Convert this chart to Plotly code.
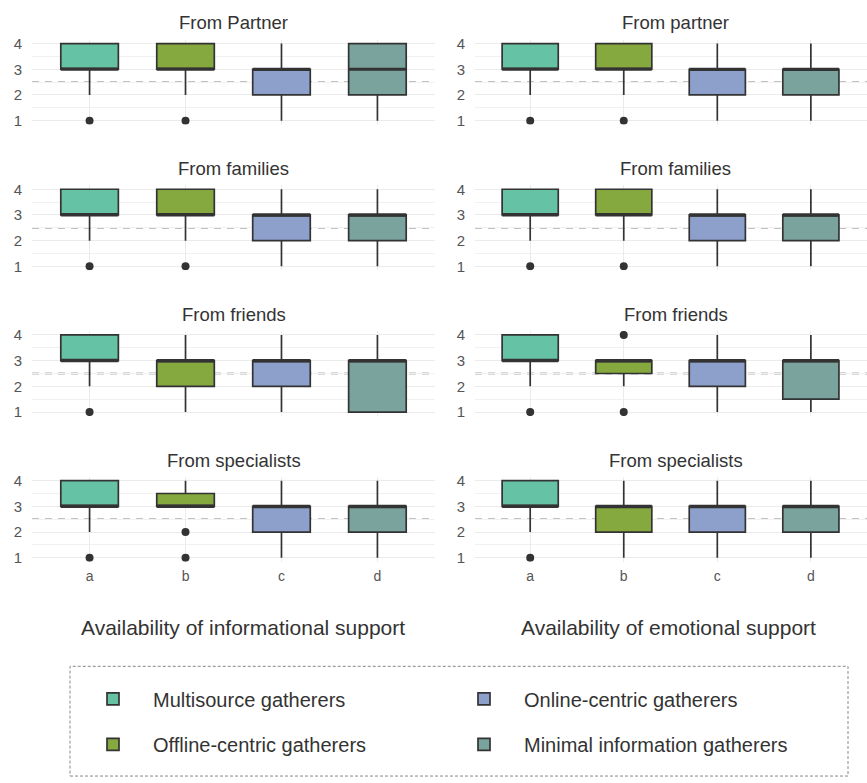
import plotly.graph_objects as go

# ---------------------------------------------------------------- data
CATEGORIES = ["a", "b", "c", "d"]
GROUPS = ["Multisource gatherers", "Offline-centric gatherers",
          "Online-centric gatherers", "Minimal information gatherers"]
COLORS = ["#66C2A5", "#86A93F", "#8DA0CB", "#7BA39D"]

INFO_TITLES = ["From Partner", "From families", "From friends", "From specialists"]
EMO_TITLES = ["From partner", "From families", "From friends", "From specialists"]

# box statistics per panel (rows) and per group a..d (columns)
INFO_Q1 = [[3, 3, 2, 2], [3, 3, 2, 2], [3, 2, 2, 1], [3, 3, 2, 2]]
INFO_MEDIAN = [[3, 3, 3, 3], [3, 3, 3, 3], [3, 3, 3, 3], [3, 3, 3, 3]]
INFO_Q3 = [[4, 4, 3, 4], [4, 4, 3, 3], [4, 3, 3, 3], [4, 3.5, 3, 3]]
INFO_LOWER = [[2, 2, 1, 1], [2, 2, 1, 1], [2, 1, 1, 1], [2, 3, 1, 1]]
INFO_UPPER = [[4, 4, 4, 4], [4, 4, 4, 4], [4, 4, 4, 4], [4, 4, 4, 4]]
INFO_OUTLIER_X = [["a", "b"], ["a", "b"], ["a"], ["a", "b", "b"]]
INFO_OUTLIER_Y = [[1, 1], [1, 1], [1], [1, 2, 1]]

EMO_Q1 = [[3, 3, 2, 2], [3, 3, 2, 2], [3, 2.5, 2, 1.5], [3, 2, 2, 2]]
EMO_MEDIAN = [[3, 3, 3, 3], [3, 3, 3, 3], [3, 3, 3, 3], [3, 3, 3, 3]]
EMO_Q3 = [[4, 4, 3, 3], [4, 4, 3, 3], [4, 3, 3, 3], [4, 3, 3, 3]]
EMO_LOWER = [[2, 2, 1, 1], [2, 2, 1, 1], [2, 2, 1, 1], [2, 1, 1, 1]]
EMO_UPPER = [[4, 4, 4, 4], [4, 4, 4, 4], [4, 3, 4, 4], [4, 4, 4, 4]]
EMO_OUTLIER_X = [["a", "b"], ["a", "b"], ["a", "b", "b"], ["a"]]
EMO_OUTLIER_Y = [[1, 1], [1, 1], [1, 4, 1], [1]]

Y_TICKS = [1, 2, 3, 4]
REFERENCE_LEVEL = 2.5
X_TITLES = ["Availability of informational support", "Availability of emotional support"]

# ---------------------------------------------------------------- layout helpers
W, H = 867, 783
FONT = "Liberation Sans, Arial, Helvetica, sans-serif"
INK = "#333333"
GRID = "#EBEBEB"

COL_PX = [(32, 435), (475, 876)]          # panel left/right in pixels
COL_XRANGE = [[-0.6, 3.6], [-0.59, 3.6]]
ROW_TOP0, ROW_STEP, ROW_H = 35.1, 147.4, 85.8


def px_x(p):
    return p / W


def px_y(p):
    return 1 - p / H


fig = go.Figure()
layout_axes = {}
annotations = []
shapes = []

columns = [
    (INFO_TITLES, INFO_Q1, INFO_MEDIAN, INFO_Q3, INFO_LOWER, INFO_UPPER, INFO_OUTLIER_X, INFO_OUTLIER_Y),
    (EMO_TITLES, EMO_Q1, EMO_MEDIAN, EMO_Q3, EMO_LOWER, EMO_UPPER, EMO_OUTLIER_X, EMO_OUTLIER_Y),
]

legend_of = {0: "legend", 2: "legend", 1: "legend2", 3: "legend2"}

for c, (titles, q1s, meds, q3s, los, his, oxs, oys) in enumerate(columns):
    for r in range(4):
        k = r * 2 + c + 1
        xa = "x" if k == 1 else f"x{k}"
        ya = "y" if k == 1 else f"y{k}"
        top = ROW_TOP0 + r * ROW_STEP
        bottom = top + ROW_H
        x0p, x1p = COL_PX[c]
        layout_axes["xaxis" if k == 1 else f"xaxis{k}"] = dict(
            domain=[px_x(x0p), min(px_x(x1p), 1.0)],
            anchor=ya,
            type="category",
            categoryorder="array",
            categoryarray=CATEGORIES,
            range=COL_XRANGE[c],
            showgrid=True, gridcolor=GRID, gridwidth=1,
            zeroline=False, showline=False, ticks="",
            showticklabels=(r == 3),
            tickfont=dict(family=FONT, size=14, color="#555555"),
            ticklabelstandoff=4,
        )
        layout_axes["yaxis" if k == 1 else f"yaxis{k}"] = dict(
            domain=[px_y(bottom), px_y(top)],
            anchor=xa,
            range=[0.85, 4.15],
            tickvals=Y_TICKS,
            showgrid=True, gridcolor=GRID, gridwidth=1.2,
            minor=dict(tickmode="linear", tick0=0.5, dtick=1, showgrid=True,
                       gridcolor="#F1F1F1", gridwidth=1),
            zeroline=False, showline=False, ticks="",
            tickfont=dict(family=FONT, size=15, color="#555555"),
            ticklabelstandoff=9,
        )
        # dashed reference level
        shapes.append(dict(type="line", xref=f"{xa} domain", yref=ya,
                           x0=0, x1=1, y0=REFERENCE_LEVEL, y1=REFERENCE_LEVEL,
                           line=dict(color="#AFAFAF", width=1.8, dash="7px,6px"),
                           layer="below"))
        # panel title
        annotations.append(dict(text=titles[r], xref="paper", yref="paper",
                                x=px_x((x0p + x1p) / 2), y=px_y(top - 17),
                                xanchor="center", yanchor="middle", showarrow=False,
                                font=dict(family=FONT, size=18.5, color=INK)))

        for g in range(4):
            show = (c == 0 and r == 0)
            fig.add_trace(go.Box(
                x=[CATEGORIES[g]], q1=[q1s[r][g]], median=[meds[r][g]], q3=[q3s[r][g]],
                lowerfence=[los[r][g]], upperfence=[his[r][g]],
                name=GROUPS[g], legendgroup=GROUPS[g], showlegend=show,
                legend=legend_of[g],
                width=0.6, whiskerwidth=0, boxpoints=False,
                fillcolor=COLORS[g], line=dict(color=INK, width=1.7),
                xaxis=xa, yaxis=ya, hoverinfo="skip",
            ))
            # heavier median bar
            fig.add_trace(go.Box(
                x=[CATEGORIES[g]], q1=[meds[r][g]], median=[meds[r][g]], q3=[meds[r][g]],
                lowerfence=[meds[r][g]], upperfence=[meds[r][g]],
                width=0.6, whiskerwidth=0, boxpoints=False, showlegend=False,
                fillcolor="rgba(0,0,0,0)", line=dict(color=INK, width=3.2),
                xaxis=xa, yaxis=ya, hoverinfo="skip",
            ))
        fig.add_trace(go.Scatter(
            x=oxs[r], y=oys[r], mode="markers",
            marker=dict(color=INK, size=8),
            showlegend=False, xaxis=xa, yaxis=ya, hoverinfo="skip",
        ))

# x-axis titles
for c, t in enumerate(X_TITLES):
    annotations.append(dict(text=t, xref="paper", yref="paper",
                            x=px_x([243, 668][c]), y=px_y(630),
                            xanchor="center", yanchor="middle", showarrow=False,
                            font=dict(family=FONT, size=21, color=INK)))

# dashed frame around the legend
shapes.append(dict(type="rect", xref="paper", yref="paper",
                   x0=px_x(70), x1=px_x(848), y0=px_y(780), y1=px_y(669),
                   line=dict(color="#888888", width=1, dash="3px,2px"),
                   fillcolor="rgba(0,0,0,0)"))

legend_style = dict(orientation="h", xanchor="left", yanchor="middle",
                    entrywidth=286, entrywidthmode="pixels", itemwidth=70,
                    bgcolor="rgba(0,0,0,0)", itemclick=False,
                    font=dict(family=FONT, size=20, color=INK))

fig.update_layout(
    width=W, height=H,
    margin=dict(l=0, r=0, t=0, b=0),
    paper_bgcolor="white", plot_bgcolor="white",
    boxmode="overlay",
    shapes=shapes, annotations=annotations,
    legend=dict(x=px_x(73), y=px_y(702), **legend_style),
    legend2=dict(x=px_x(73), y=px_y(748), **legend_style),
    **layout_axes,
)

fig.write_html("out.html")
